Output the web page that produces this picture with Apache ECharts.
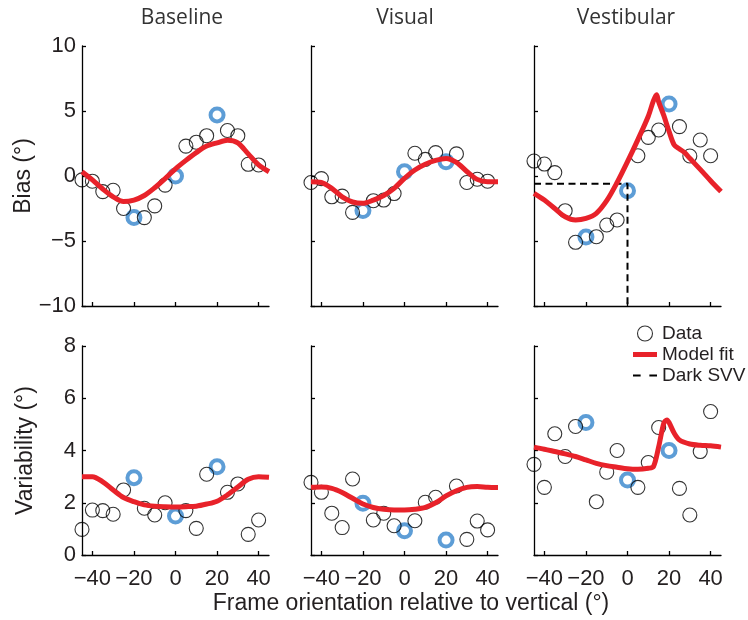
<!DOCTYPE html>
<html>
<head>
<meta charset="utf-8">
<script src="https://cdn.jsdelivr.net/npm/echarts@6/dist/echarts.min.js"></script>
<style>
html,body{margin:0;padding:0;background:#fff;}
#chart{width:748px;height:620px;}
</style>
</head>
<body>
<div id="chart"></div>
<script>
// ---------- data ----------
const panelTitles = ['Baseline', 'Visual', 'Vestibular'];
const xTicks = [-40, -20, 0, 20, 40];
const biasTicks = [-10, -5, 0, 5, 10];
const varTicks = [0, 2, 4, 6, 8];
const xAxisTitle = 'Frame orientation relative to vertical (\u00B0)';
const biasTitle = 'Bias (\u00B0)';
const varTitle = 'Variability (\u00B0)';

const frameAngles = [-45, -40, -35, -30, -25, -20, -15, -10, -5, 0, 5, 10, 15, 20, 25, 30, 35, 40];
const highlightAngles = [-20, 0, 20];

const biasBaseline   = [-0.3, -0.4, -1.2, -1.1, -2.5, -3.2, -3.2, -2.3, -0.7, 0.0, 2.3, 2.6, 3.1, 4.7, 3.5, 3.1, 0.9, 0.85];
const biasVisual     = [-0.5, -0.2, -1.6, -1.55, -2.8, -2.65, -1.9, -1.85, -1.35, 0.33, 1.75, 1.28, 1.8, 1.1, 1.7, -0.5, -0.25, -0.4];
const biasVestibular = [1.15, 0.92, 0.26, -2.67, -5.1, -4.7, -4.67, -3.77, -3.38, -1.13, 1.56, 2.97, 3.54, 5.54, 3.8, 1.54, 2.77, 1.56];
const varBaseline    = [0.98, 1.72, 1.7, 1.56, 2.49, 2.96, 1.79, 1.53, 2.0, 1.49, 1.7, 1.02, 3.09, 3.38, 2.4, 2.72, 0.79, 1.34];
const varVisual      = [2.78, 2.4, 1.6, 1.05, 2.91, 1.98, 1.34, 1.6, 1.12, 0.93, 1.31, 2.02, 2.21, 0.57, 2.64, 0.6, 1.3, 0.96];
const varVestibular  = [3.47, 2.59, 4.64, 3.77, 4.92, 5.07, 2.04, 3.17, 4.0, 2.87, 2.59, 3.54, 4.88, 4.0, 2.55, 1.53, 3.96, 5.49];

const fitAngles = [-45, -40, -35, -30, -25, -20, -15, -10, -5, 0, 5, 10, 15, 20, 25, 30, 35, 40, 45];
const fitBiasBaseline = [0.33, -0.3, -1.0, -1.6, -1.97, -1.85, -1.5, -0.9, -0.2, 0.55, 1.2, 1.8, 2.3, 2.55, 2.75, 2.55, 1.7, 0.85, 0.33];
const fitBiasVisual   = [-0.45, -0.5, -0.95, -1.6, -2.0, -2.1, -1.85, -1.5, -0.95, -0.18, 0.46, 0.9, 1.2, 1.35, 1.05, 0.35, -0.26, -0.44, -0.44];
const fitVarBaseline  = [3.0, 3.0, 2.8, 2.49, 2.2, 2.04, 1.92, 1.87, 1.85, 1.84, 1.85, 1.87, 1.95, 2.06, 2.3, 2.6, 2.9, 3.0, 2.98];
const fitVarVisual    = [2.59, 2.6, 2.55, 2.39, 2.17, 1.95, 1.82, 1.75, 1.72, 1.72, 1.75, 1.82, 2.0, 2.26, 2.46, 2.59, 2.62, 2.59, 2.58];

const fitAnglesVestBias = [-45, -40, -35, -30, -25, -20, -15, -10, -5, 0, 5, 10, 12.5, 14, 15, 17.5, 20, 22.5, 25, 27.5, 30, 35, 40, 45];
const fitBiasVestibular = [-1.33, -1.85, -2.5, -3.13, -3.38, -3.26, -2.87, -1.9, -0.5, 1.1, 2.8, 4.6, 5.8, 6.25, 5.7, 4.64, 3.43, 2.38, 2.08, 1.8, 1.36, 0.51, -0.36, -1.2];
const fitAnglesVestVar = [-45, -40, -35, -30, -25, -20, -15, -10, -5, 0, 5, 10, 12.5, 15, 17.5, 19, 20, 22.5, 25, 30, 35, 40, 45];
const fitVarVestibular = [4.13, 4.05, 3.96, 3.87, 3.77, 3.64, 3.51, 3.42, 3.36, 3.3, 3.28, 3.32, 3.38, 4.14, 5.05, 5.17, 5.07, 4.66, 4.4, 4.25, 4.2, 4.18, 4.13];

const darkSvvFrame = 0;
const darkSvvBias = -0.6;

// ---------- styles ----------
const RED = '#E8222A';
const BLUE = '#3585CC';
const TXT = '#231F20';
const FONT = 'Liberation Sans';

const panels = [
  { vals: biasBaseline,   fx: fitAngles,         fy: fitBiasBaseline },
  { vals: biasVisual,     fx: fitAngles,         fy: fitBiasVisual },
  { vals: biasVestibular, fx: fitAnglesVestBias, fy: fitBiasVestibular },
  { vals: varBaseline,    fx: fitAngles,         fy: fitVarBaseline },
  { vals: varVisual,      fx: fitAngles,         fy: fitVarVisual },
  { vals: varVestibular,  fx: fitAnglesVestVar,  fy: fitVarVestibular }
];

const colLeft = [82, 311, 534];
const plotW = 187;
const rowTop = [46, 346];
const rowH = [260, 209];

const minusFmt = v => (v < 0 ? '\u2212' + Math.abs(v) : String(v));

const grids = [], xAxes = [], yAxes = [], series = [];
const axisLineStyle = { color: '#000', width: 1.3 };

panels.forEach((p, i) => {
  const row = Math.floor(i / 3), col = i % 3;
  grids.push({ left: colLeft[col], top: rowTop[row], width: plotW, height: rowH[row], outerBoundsMode: 'none', containLabel: false });
  xAxes.push({
    gridIndex: i, type: 'value', min: -45, max: 45,
    axisLine: { show: true, onZero: false, lineStyle: axisLineStyle },
    axisTick: { show: true, inside: true, length: 4, customValues: xTicks, lineStyle: axisLineStyle },
    axisLabel: { show: row === 1, customValues: xTicks, formatter: minusFmt, margin: 13,
                 fontFamily: FONT, fontSize: 22, color: TXT },
    splitLine: { show: false }
  });
  const ticks = row === 0 ? biasTicks : varTicks;
  const y = {
    gridIndex: i, type: 'value', min: ticks[0], max: ticks[ticks.length - 1], interval: ticks[1] - ticks[0],
    axisLine: { show: true, onZero: false, lineStyle: axisLineStyle },
    axisTick: { show: true, inside: true, length: 4, lineStyle: axisLineStyle },
    axisLabel: { show: col === 0, formatter: minusFmt, margin: 6, fontFamily: FONT, fontSize: 22, color: TXT },
    splitLine: { show: false }
  };
  if (col === 0) {
    y.name = row === 0 ? biasTitle : varTitle;
    y.nameLocation = 'middle';
    y.nameGap = 45;
    y.nameTextStyle = { fontFamily: FONT, fontSize: 23, color: TXT };
  }
  yAxes.push(y);

  const normal = [], hi = [];
  frameAngles.forEach((a, k) => {
    (highlightAngles.indexOf(a) >= 0 ? hi : normal).push([a, p.vals[k]]);
  });
  series.push({
    name: 'Highlighted', type: 'scatter', xAxisIndex: i, yAxisIndex: i, z: 2,
    symbol: 'circle', symbolSize: 13, data: hi, silent: true,
    itemStyle: { color: 'rgba(0,0,0,0)', borderColor: BLUE, borderWidth: 4 }
  });
  series.push({
    name: 'Data', type: 'scatter', xAxisIndex: i, yAxisIndex: i, z: 3,
    symbol: 'circle', symbolSize: 14, data: normal, silent: true,
    itemStyle: { color: 'rgba(0,0,0,0)', borderColor: '#000', borderWidth: 1.1 }
  });
  series.push({
    name: 'Model fit', type: 'line', xAxisIndex: i, yAxisIndex: i, z: 5,
    data: p.fx.map((x, k) => [x, p.fy[k]]), smooth: 0.3, symbol: 'none', showSymbol: false, silent: true,
    lineStyle: { color: RED, width: 5 }, itemStyle: { color: RED }
  });
});

// dark SVV dashed guide in the vestibular bias panel
series.push({
  name: 'Dark SVV', type: 'line', xAxisIndex: 2, yAxisIndex: 2, z: 4, symbol: 'none', silent: true,
  data: [[-45, darkSvvBias], [darkSvvFrame, darkSvvBias], [darkSvvFrame, biasTicks[0]]],
  lineStyle: { color: '#000', width: 2, type: [7, 4.5] }, itemStyle: { color: '#000' }
});

const titleCenters = [182, 405, 626];
const titles = panelTitles.map((t, k) => ({
  text: t, left: titleCenters[k], top: 8, textAlign: 'center', padding: 0,
  textStyle: { fontFamily: 'Open Sans', fontSize: 21, fontWeight: 'normal', color: '#333' }
}));
titles.push({
  text: xAxisTitle, left: 411, top: 592, textAlign: 'center', padding: 0,
  textStyle: { fontFamily: FONT, fontSize: 23, fontWeight: 'normal', color: TXT }
});

const option = {
  animation: false,
  backgroundColor: '#fff',
  title: titles,
  grid: grids,
  xAxis: xAxes,
  yAxis: yAxes,
  legend: {
    orient: 'vertical', left: 633, top: 324, padding: 0,
    itemWidth: 24, itemHeight: 15, itemGap: 2, selectedMode: false,
    textStyle: { fontFamily: FONT, fontSize: 19, color: TXT },
    data: [
      { name: 'Data', icon: 'circle', itemStyle: { color: 'rgba(0,0,0,0)', borderColor: '#000', borderWidth: 1.1 } },
      { name: 'Model fit', icon: 'path://M0,0L24,0L24,5L0,5Z', itemStyle: { color: RED, borderWidth: 0 } },
      { name: 'Dark SVV', icon: 'path://M0,0L7,0L7,2L0,2ZM15,0L22,0L22,2L15,2Z', itemStyle: { color: '#000', borderWidth: 0 } }
    ]
  },
  series: series
};

const chart = echarts.init(document.getElementById('chart'), null, { renderer: 'canvas' });
chart.setOption(option);
</script>
</body>
</html>
